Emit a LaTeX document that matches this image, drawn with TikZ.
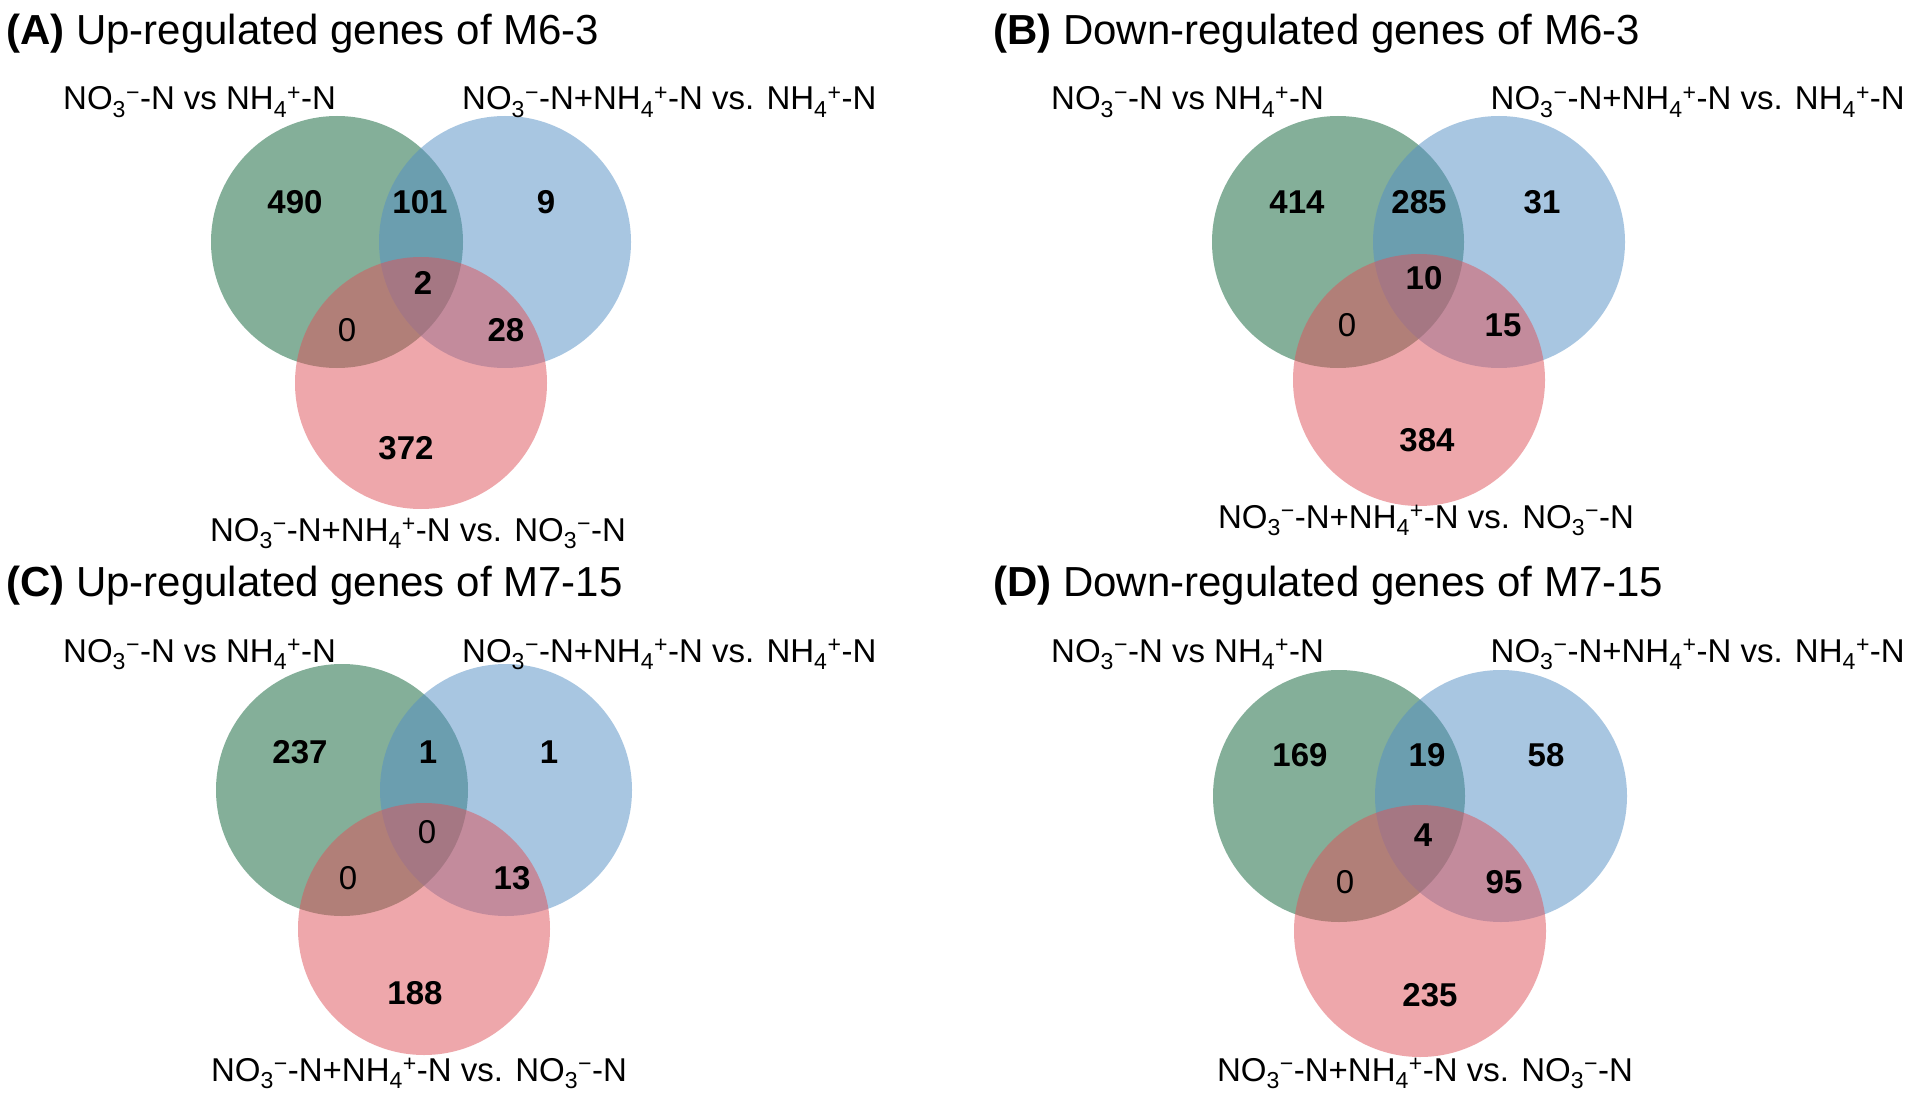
\documentclass[tikz,border=0pt]{standalone}
\usepackage{fontspec}
\setmainfont{Liberation Sans}
\definecolor{vgreen}{RGB}{11,97,53}
\definecolor{vblue}{RGB}{83,143,197}
\definecolor{vred}{RGB}{223,81,89}
\newcommand{\nothree}{NO\textsubscript{3}\textsuperscript{−}}
\newcommand{\nhfour}{NH\textsubscript{4}\textsuperscript{+}}
\tikzset{
  vset/.style={circle, minimum size=252pt, inner sep=0pt, fill opacity=0.5, draw=none},
  gset/.style={vset, fill=vgreen},
  bset/.style={vset, fill=vblue},
  rset/.style={vset, fill=vred},
  cnt/.style={font=\fontsize{33}{40}\selectfont\bfseries, inner sep=0pt},
  zero/.style={font=\fontsize{33}{40}\selectfont, inner sep=0pt},
  lab/.style={font=\fontsize{33}{40}\selectfont, inner sep=0pt},
  ttl/.style={font=\fontsize{42}{50}\selectfont, inner sep=0pt, anchor=base west}
}
\begin{document}
\begin{tikzpicture}[x=1pt, y=-1pt]
\fill[white] (0,0) rectangle (1907,1094);
\useasboundingbox (0,0) rectangle (1907,1094);

% ---------- Panel A ----------
\node[ttl] (tA) at (6,45) {\textbf{(A)} Up-regulated genes of M6-3};
\node[gset] (gA) at (337,242) {};
\node[bset] (bA) at (505,242) {};
\node[rset] (rA) at (421,383) {};
\node[lab, anchor=base west] (l1A) at (63,110) {\nothree-N vs \nhfour-N};
\node[lab, anchor=base west] (l2A) at (462,110) {\nothree-N+\nhfour-N vs. \nhfour-N};
\node[lab, anchor=base] (l3A) at (418,541) {\nothree-N+\nhfour-N vs. \nothree-N};
\node[cnt] (a1) at (295,202) {490};
\node[cnt] (a2) at (420,202) {101};
\node[cnt] (a3) at (546,202) {9};
\node[cnt] (a4) at (423,283) {2};
\node[zero] (a5) at (347,330) {0};
\node[cnt] (a6) at (506,330) {28};
\node[cnt] (a7) at (406,448) {372};

% ---------- Panel B ----------
\node[ttl] (tB) at (993,45) {\textbf{(B)} Down-regulated genes of M6-3};
\node[gset] (gB) at (1338,242) {};
\node[bset] (bB) at (1499,242) {};
\node[rset] (rB) at (1419,380) {};
\node[lab, anchor=base west] (l1B) at (1051,110) {\nothree-N vs \nhfour-N};
\node[lab, anchor=base east] (l2B) at (1905,110) {\nothree-N+\nhfour-N vs. \nhfour-N};
\node[lab, anchor=base] (l3B) at (1426,528) {\nothree-N+\nhfour-N vs. \nothree-N};
\node[cnt] (b1) at (1297,202) {414};
\node[cnt] (b2) at (1419,202) {285};
\node[cnt] (b3) at (1542,202) {31};
\node[cnt] (b4) at (1424,278) {10};
\node[zero] (b5) at (1347,325) {0};
\node[cnt] (b6) at (1503,325) {15};
\node[cnt] (b7) at (1427,440) {384};

% ---------- Panel C ----------
\node[ttl] (tC) at (6,596) {\textbf{(C)} Up-regulated genes of M7-15};
\node[gset] (gC) at (342,790) {};
\node[bset] (bC) at (506,790) {};
\node[rset] (rC) at (424,929) {};
\node[lab, anchor=base west] (l1C) at (63,662) {\nothree-N vs \nhfour-N};
\node[lab, anchor=base west] (l2C) at (462,662) {\nothree-N+\nhfour-N vs. \nhfour-N};
\node[lab, anchor=base] (l3C) at (419,1081) {\nothree-N+\nhfour-N vs. \nothree-N};
\node[cnt] (c1) at (300,752) {237};
\node[cnt] (c2) at (428,752) {1};
\node[cnt] (c3) at (549,752) {1};
\node[zero] (c4) at (427,832) {0};
\node[zero] (c5) at (348,878) {0};
\node[cnt] (c6) at (512,878) {13};
\node[cnt] (c7) at (415,993) {188};

% ---------- Panel D ----------
\node[ttl] (tD) at (993,596) {\textbf{(D)} Down-regulated genes of M7-15};
\node[gset] (gD) at (1339,796) {};
\node[bset] (bD) at (1501,796) {};
\node[rset] (rD) at (1420,931) {};
\node[lab, anchor=base west] (l1D) at (1051,662) {\nothree-N vs \nhfour-N};
\node[lab, anchor=base east] (l2D) at (1905,662) {\nothree-N+\nhfour-N vs. \nhfour-N};
\node[lab, anchor=base] (l3D) at (1425,1081) {\nothree-N+\nhfour-N vs. \nothree-N};
\node[cnt] (d1) at (1300,755) {169};
\node[cnt] (d2) at (1427,755) {19};
\node[cnt] (d3) at (1546,755) {58};
\node[cnt] (d4) at (1423,835) {4};
\node[zero] (d5) at (1345,882) {0};
\node[cnt] (d6) at (1504,882) {95};
\node[cnt] (d7) at (1430,995) {235};
\end{tikzpicture}
\end{document}
